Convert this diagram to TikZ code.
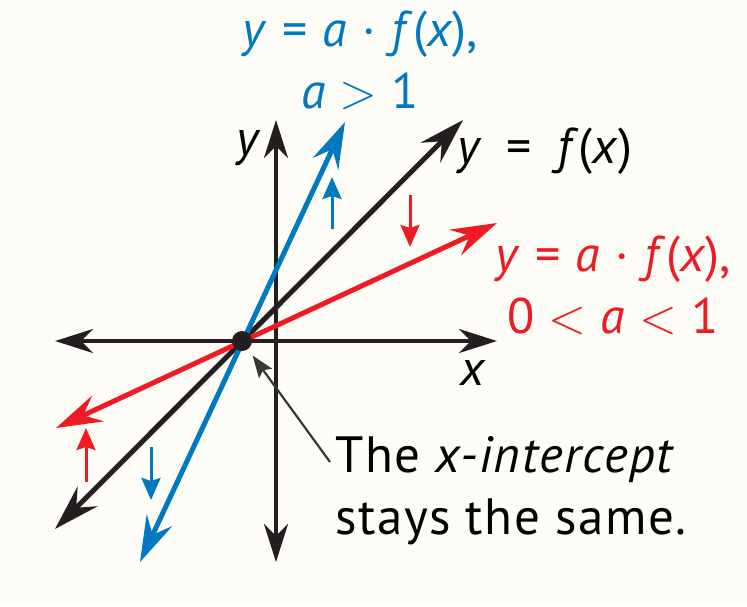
\documentclass[tikz,border=0pt]{standalone}
\usepackage{fontspec}
\setmainfont{PT Sans}
\newfontfamily\notefont{PT Sans}[LetterSpace=3]
\usetikzlibrary{arrows.meta,calc}

\definecolor{fblack}{RGB}{35,31,32}
\definecolor{fblue}{RGB}{0,121,193}
\definecolor{fred}{RGB}{237,28,36}
\definecolor{paper}{RGB}{253,252,247}
\newcommand{\gap}{\hspace{0.31em}}
\newcommand{\relgap}{\hspace{0.28em}}
\newcommand{\lt}{\relgap\ensuremath{<}\relgap}
\newcommand{\gt}{\relgap\ensuremath{>}\relgap}

\begin{document}
\begin{tikzpicture}[
  x=0.5pt, y=-0.5pt,
  font=\fontsize{25}{31}\selectfont,
  axis/.style={<->, >={Stealth[length=19pt, width=12pt, inset=6pt]}, line width=2pt, draw=fblack},
  graph/.style={<->, >={Stealth[length=23pt, width=14pt, inset=8pt]}, line width=2.5pt},
  nudge/.style={-{Stealth[length=11pt, width=9.5pt, inset=1.5pt]}, line width=1.5pt},
  pointer/.style={-{Stealth[length=11pt, width=8pt, inset=2pt]}, line width=1.1pt, draw=black!78},
  label/.style={inner sep=0pt}
]

\fill[paper] (0,0) rectangle (747,606);
\path[use as bounding box] (0,0) rectangle (747,606);

% axes
\coordinate (xL) at (55,341);
\coordinate (xR) at (497,341);
\coordinate (yT) at (276,120);
\coordinate (yB) at (276,562);
\draw[axis] (xL) -- (xR);
\draw[axis] (yB) -- (yT);

% x-intercept
\coordinate (O) at (242,341);

% graphs through the x-intercept
\coordinate (fL) at (55,529);
\coordinate (fR) at (463,120);
\coordinate (rL) at (56,428);
\coordinate (rR) at (497,223);
\coordinate (bL) at (140,562);
\coordinate (bR) at (345,122);
\draw[graph, draw=fblack] (fL) -- (fR);
\draw[graph, draw=fred] (rL) -- (rR);
\draw[graph, draw=fblue] (bL) -- (bR);

\fill[fblack] (O) circle (5pt);

% stretch / shrink arrows
\coordinate (bu1) at (332,229);
\coordinate (bu2) at (332,177);
\coordinate (bd1) at (151,447);
\coordinate (bd2) at (151,500);
\coordinate (rd1) at (410,195);
\coordinate (rd2) at (410,247);
\coordinate (ru1) at (86,482);
\coordinate (ru2) at (86,428);
\draw[nudge, draw=fblue] (bu1) -- (bu2);
\draw[nudge, draw=fblue] (bd1) -- (bd2);
\draw[nudge, draw=fred] (rd1) -- (rd2);
\draw[nudge, draw=fred] (ru1) -- (ru2);

% labels
\node[label, anchor=base] (ylab) at (249,155) {\textit{y}};
\node[label, anchor=base] (xlab) at (473,385) {\textit{x}};
\node[label, anchor=base west] (flab) at (457,163)
  {\textit{y}\hspace{0.5em}=\hspace{0.5em}\textit{f}(\textit{x})};
\node[label, anchor=north, align=center, text=fblue] (blab) at (360,10)
  {\textit{y}\gap=\gap\textit{a}\gap·\gap\textit{f}(\textit{x}),\\\textit{a}\gt1};
\node[label, anchor=north, align=center, text=fred] (rlab) at (613,235)
  {\textit{y}\gap=\gap\textit{a}\gap·\gap\textit{f}(\textit{x}),\\0\lt\textit{a}\lt1};
\node[label, anchor=north west, align=left, font=\notefont\fontsize{25.5}{31}\selectfont] (note) at (335,436)
  {The \textit{x-intercept}\\stays the same.};

\coordinate (tail) at (330,462);
\draw[pointer, shorten >=9pt] (tail) -- (O);

\end{tikzpicture}
\end{document}
